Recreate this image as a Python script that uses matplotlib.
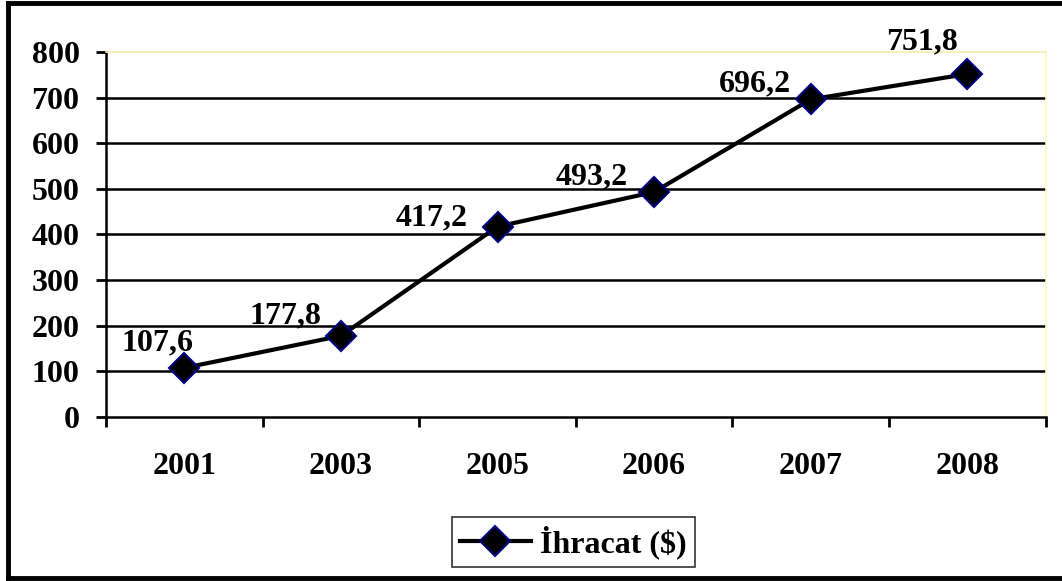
import matplotlib
matplotlib.use("Agg")
import matplotlib.pyplot as plt
from matplotlib.lines import Line2D

years = ["2001", "2003", "2005", "2006", "2007", "2008"]
ihracat = [107.6, 177.8, 417.2, 493.2, 696.2, 751.8]
value_labels = ["107,6", "177,8", "417,2", "493,2", "696,2", "751,8"]
y_ticks = [0, 100, 200, 300, 400, 500, 600, 700, 800]

# label offsets (pixels) to mimic Excel placement
label_offsets = [(9, 25), (-19, 20), (-30, 9), (-26, 15), (-20, 15), (-9, 32)]

plt.rcParams["font.family"] = ["Liberation Serif", "DejaVu Serif"]
plt.rcParams["font.weight"] = "bold"
plt.rcParams["font.size"] = 23

fig = plt.figure(figsize=(10.62, 5.81), dpi=100)
ax = fig.add_axes([0.0998, 0.2823, 0.8848, 0.6282])

x = list(range(len(years)))
ax.set_xlim(-0.5, len(years) - 0.5)
ax.set_ylim(0, 800)

for yv in y_ticks[1:-1]:
    ax.axhline(yv, color="black", lw=1.8, zorder=1)

ax.plot(x, ihracat, color="black", lw=3, marker="D", markersize=15,
        markerfacecolor="black", markeredgecolor="#000080", markeredgewidth=1.5,
        zorder=3, label="İhracat ($)")

for xi, yi, txt, (dx, dy) in zip(x, ihracat, value_labels, label_offsets):
    ax.annotate(txt, (xi, yi), xytext=(dx, dy), textcoords="offset pixels",
                ha="right", va="center", fontweight="bold", fontsize=23)

ax.set_yticks(y_ticks)
ax.set_yticklabels([str(v) for v in y_ticks])
ax.set_xticks(x)
ax.set_xticklabels(years)
ax.set_xticks([i - 0.5 for i in range(len(years) + 1)], minor=True)
ax.tick_params(axis="x", which="major", length=0, pad=25)
ax.tick_params(axis="x", which="minor", length=7, width=2, direction="out")
ax.tick_params(axis="y", length=7, width=2, direction="out", pad=12)

ax.spines["left"].set_linewidth(1.8)
ax.spines["bottom"].set_linewidth(1.8)
ax.spines["top"].set_color("#f0f0b0")
ax.spines["right"].set_color("#fffcc0")
ax.spines["top"].set_linewidth(1.2)
ax.spines["right"].set_linewidth(1.2)

leg = ax.legend(loc="center", bbox_to_anchor=(0.54, 0.067),
                bbox_transform=fig.transFigure, frameon=True, fancybox=False,
                edgecolor="black", handlelength=2.2, borderpad=0.25,
                handletextpad=0.3, fontsize=23)
leg.get_frame().set_linewidth(1.2)

# outer chart border (left, top, bottom)
fig.add_artist(Line2D([0.0075, 0.0075], [0.006, 0.994], color="black", lw=3.5, transform=fig.transFigure))
fig.add_artist(Line2D([0.0075, 1.0], [0.994, 0.994], color="black", lw=3.5, transform=fig.transFigure))
fig.add_artist(Line2D([0.0075, 1.0], [0.006, 0.006], color="black", lw=3.5, transform=fig.transFigure))

fig.savefig("out.png", dpi=100)
